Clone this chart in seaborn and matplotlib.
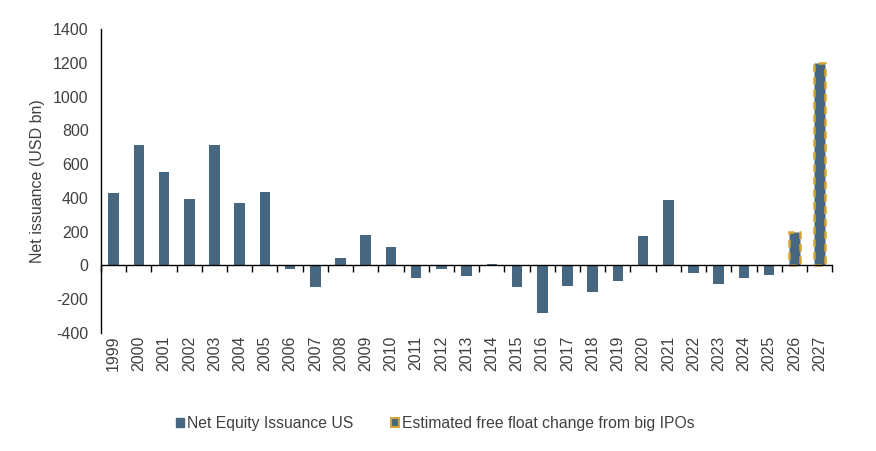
import numpy as np
import pandas as pd
import matplotlib
matplotlib.use("Agg")
import matplotlib.pyplot as plt
from matplotlib.patches import Patch
import seaborn as sns

years = [str(y) for y in range(1999, 2028)]
net_issuance = [427, 716, 551, 391, 716, 368, 434, -20, -128, 45, 179, 108,
                -73, -21, -63, 6, -128, -282, -122, -158, -93, 177, 390, -45,
                -110, -75, -57, 200, 1200]
series = ["Net Equity Issuance US"] * 27 + ["Estimated free float change from big IPOs"] * 2

BLUE = "#46677F"
GOLD = "#D4A531"
TEXT = "#404040"

df = pd.DataFrame({"year": years, "value": net_issuance, "series": series})

sns.set_style("white")
plt.rcParams["font.family"] = ["Liberation Sans", "DejaVu Sans"]
plt.rcParams["axes.unicode_minus"] = False

fig = plt.figure(figsize=(8.76, 4.51), dpi=100)
ax = fig.add_axes([0.1153, 0.2616, 0.8347, 0.6741])

sns.barplot(data=df, x="year", y="value", hue="series", dodge=False,
            palette=[BLUE, BLUE], width=0.42, legend=False, ax=ax,
            saturation=1, linewidth=0, edgecolor=BLUE)

# dashed gold outline for the IPO estimate bars
n_main = series.count("Net Equity Issuance US")
for patch in ax.patches:
    x = patch.get_x() + patch.get_width() / 2
    if round(x) >= n_main:
        patch.set_edgecolor(GOLD)
        patch.set_linewidth(1.8)
        patch.set_linestyle((0, (3, 2)))

ax.set_xlim(-0.5, len(years) - 0.5)
ax.set_ylim(-400, 1400)
ax.set_yticks(np.arange(-400, 1401, 200))
ax.set_xlabel("")
ax.set_ylabel("Net issuance (USD bn)", fontsize=11.5, color=TEXT, labelpad=6)

ax.tick_params(axis="y", length=0, labelsize=11.5, labelcolor=TEXT, pad=9)
ax.tick_params(axis="x", length=0, labelsize=11.5, labelcolor=TEXT, rotation=90, pad=2)

for side in ["top", "right", "bottom"]:
    ax.spines[side].set_visible(False)
ax.spines["left"].set_color("black")
ax.spines["left"].set_linewidth(1)

# zero line with category separator ticks
zero_axis = ax.secondary_xaxis(0, transform=ax.transData)
zero_axis.set_zorder(5)
zero_axis.set_xticks(np.arange(-0.5, len(years), 1.0))
zero_axis.set_xticklabels([])
zero_axis.tick_params(direction="out", length=5, width=1, color="black")
zero_axis.spines["bottom"].set_color("black")
zero_axis.spines["bottom"].set_linewidth(1)

handles = [
    Patch(facecolor=BLUE, edgecolor=BLUE, label="Net Equity Issuance US"),
    Patch(facecolor=BLUE, edgecolor=GOLD, linewidth=1.5,
          label="Estimated free float change from big IPOs"),
]
fig.legend(handles=handles, loc="center", bbox_to_anchor=(0.4966, 0.06),
           ncol=2, frameon=False, fontsize=11.3, handlelength=0.5,
           handleheight=0.5, handletextpad=0.2, columnspacing=2.4,
           labelcolor=TEXT)

fig.savefig("out.png", dpi=100)
